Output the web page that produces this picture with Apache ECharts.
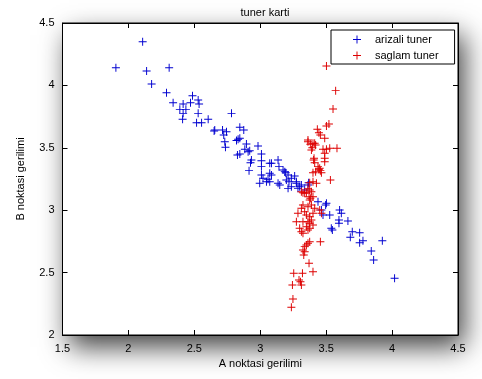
<!DOCTYPE html>
<html>
<head>
<meta charset="utf-8">
<script src="https://cdn.jsdelivr.net/npm/echarts@6/dist/echarts.min.js"></script>
<style>html,body{margin:0;padding:0;background:#fff;}#c{width:482px;height:379px;}</style>
</head>
<body>
<div id="c"></div>
<script>
var titleText = 'tuner karti';
var xName = 'A noktasi gerilimi';
var yName = 'B noktasi gerilimi';
var seriesNames = ['arizali tuner', 'saglam tuner'];
var xTicks = [1.5, 2, 2.5, 3, 3.5, 4, 4.5];
var yTicks = [2, 2.5, 3, 3.5, 4, 4.5];

var arizaliX = [2.108,1.905,2.138,2.309,2.176,2.289,2.339,2.415,2.486,2.529,2.536,2.390,2.436,2.471,2.415,2.411,2.529,2.517,2.555,2.605,2.782,2.655,2.714,2.744,2.723,2.845,2.875,2.845,2.650,2.731,2.832,2.820,2.895,2.883,2.920,2.983,2.736,2.827,2.845,2.933,2.926,2.915,3.009,3.009,3.072,3.135,3.142,3.072,3.085,3.009,2.996,3.059,3.173,3.193,3.211,3.236,3.261,3.148,3.198,3.218,3.274,3.211,3.286,3.312,3.337,3.072,3.009,3.085,2.908,3.021,3.047,3.135,3.186,3.299,3.367,3.502,3.438,3.464,3.527,3.602,3.597,3.665,3.539,3.615,3.597,3.698,3.683,3.754,3.754,3.779,3.926,3.842,3.860,4.019,3.496,3.476,3.547,3.274,3.236,3.362];
var arizaliY = [4.350,4.142,4.115,4.142,4.011,3.941,3.861,3.851,3.917,3.883,3.851,3.808,3.808,3.861,3.776,3.728,3.776,3.701,3.701,3.728,3.776,3.643,3.643,3.629,3.603,3.664,3.643,3.576,3.635,3.549,3.568,3.559,3.530,3.488,3.477,3.514,3.504,3.442,3.450,3.402,3.381,3.317,3.450,3.397,3.376,3.402,3.349,3.296,3.282,3.282,3.216,3.248,3.322,3.300,3.282,3.256,3.274,3.202,3.242,3.228,3.228,3.175,3.175,3.202,3.162,3.228,3.349,3.376,3.469,3.256,3.228,3.216,3.309,3.188,3.220,3.055,3.068,3.002,2.962,3.002,2.921,2.913,2.855,2.975,2.895,2.828,2.783,2.820,2.740,2.756,2.756,2.673,2.601,2.454,3.042,2.962,2.841,3.216,3.188,3.202];

var saglamX = [3.502,3.572,3.552,3.521,3.502,3.433,3.445,3.456,3.489,3.362,3.380,3.395,3.388,3.420,3.476,3.502,3.527,3.582,3.408,3.489,3.400,3.489,3.405,3.413,3.489,3.438,3.445,3.456,3.420,3.400,3.464,3.532,3.400,3.375,3.426,3.362,3.324,3.337,3.375,3.388,3.370,3.380,3.375,3.400,3.324,3.312,3.362,3.337,3.388,3.413,3.400,3.451,3.464,3.286,3.350,3.375,3.274,3.324,3.362,3.375,3.388,3.400,3.350,3.375,3.362,3.299,3.312,3.324,3.375,3.362,3.350,3.337,3.324,3.337,3.330,3.456,3.370,3.400,3.254,3.320,3.305,3.294,3.244,3.312,3.248,3.236,3.312,3.350,3.362,3.413,3.451];
var saglamY = [4.155,3.958,3.811,3.691,3.675,3.648,3.621,3.603,3.576,3.563,3.528,3.501,3.482,3.522,3.488,3.488,3.496,3.496,3.416,3.416,3.536,3.456,3.402,3.381,3.389,3.349,3.328,3.317,3.309,3.300,3.300,3.242,3.228,3.220,3.216,3.175,3.140,3.135,3.162,3.148,3.108,3.095,3.082,3.108,3.042,3.015,3.028,2.988,3.042,3.015,2.975,3.002,2.975,2.975,2.962,2.948,2.908,2.908,2.908,2.895,2.921,2.881,2.868,2.855,2.841,2.855,2.828,2.815,2.748,2.735,2.721,2.708,2.681,2.667,2.641,2.748,2.575,2.507,2.494,2.494,2.427,2.441,2.401,2.401,2.288,2.222,3.148,3.140,3.549,3.536,3.336];

function zip(a, b) { var r = []; for (var i = 0; i < a.length; i++) r.push([a[i], b[i]]); return r; }

var BLUE = '#0000d0';
var RED = '#dd0000';
var PLUS = 'path://M0,4.4H10V5.6H0ZM4.4,0H5.6V10H4.4Z';
var FONT = 'Liberation Sans, Arial, sans-serif';

var G = {left: 62.5, top: 23, right: 24, bottom: 44};

var chart = echarts.init(document.getElementById('c'), null, {renderer: 'canvas'});

function axisCommon(show) {
  return {
    axisLine: {show: true, onZero: false, lineStyle: {color: '#000', width: 1}},
    axisTick: {show: true, inside: true, length: 5, lineStyle: {color: '#000'}},
    axisLabel: {show: show, color: '#000', fontFamily: FONT, fontSize: 11},
    splitLine: {show: false}
  };
}

var option = {
  animation: false,
  backgroundColor: '#fff',
  title: {
    text: titleText, left: 260, top: 2, textAlign: 'center',
    textStyle: {fontFamily: FONT, fontSize: 11, fontWeight: 'normal', color: '#000'}
  },
  graphic: {
    elements: [{
      type: 'rect', z: -10, silent: true,
      shape: {x: G.left, y: G.top, width: 482 - G.left - G.right, height: 379 - G.top - G.bottom},
      style: {fill: '#fff', shadowBlur: 26, shadowOffsetX: 6, shadowOffsetY: 12, shadowColor: 'rgba(0,0,0,0.75)'}
    }]
  },
  grid: Object.assign({show: true, backgroundColor: '#fff', borderColor: '#000', borderWidth: 1}, G),
  legend: {
    orient: 'vertical', left: 331, top: 30,
    padding: [4, 16, 3, 22], itemGap: 5,
    itemWidth: 26, itemHeight: 8,
    backgroundColor: '#fff', borderColor: '#000', borderWidth: 1,
    textStyle: {fontFamily: FONT, fontSize: 11, color: '#000'},
    data: seriesNames
  },
  xAxis: [
    Object.assign({type: 'value', position: 'bottom', min: xTicks[0], max: xTicks[xTicks.length - 1], interval: 0.5,
      name: xName, nameLocation: 'middle', nameGap: 23,
      nameTextStyle: {fontFamily: FONT, fontSize: 11, color: '#000'}}, axisCommon(true)),
    Object.assign({type: 'value', position: 'top', min: xTicks[0], max: xTicks[xTicks.length - 1], interval: 0.5}, axisCommon(false))
  ],
  yAxis: [
    Object.assign({type: 'value', position: 'left', min: yTicks[0], max: yTicks[yTicks.length - 1], interval: 0.5,
      name: yName, nameLocation: 'middle', nameGap: 36,
      nameTextStyle: {fontFamily: FONT, fontSize: 11, color: '#000'}}, axisCommon(true)),
    Object.assign({type: 'value', position: 'right', min: yTicks[0], max: yTicks[yTicks.length - 1], interval: 0.5}, axisCommon(false))
  ],
  series: [
    {
      name: seriesNames[0], type: 'scatter', symbol: PLUS, symbolSize: 8,
      itemStyle: {color: BLUE, opacity: 1},
      data: zip(arizaliX, arizaliY)
    },
    {
      name: seriesNames[1], type: 'scatter', symbol: PLUS, symbolSize: 8,
      itemStyle: {color: RED, opacity: 1},
      data: zip(saglamX, saglamY)
    }
  ]
};
chart.setOption(option);
</script>
</body>
</html>
